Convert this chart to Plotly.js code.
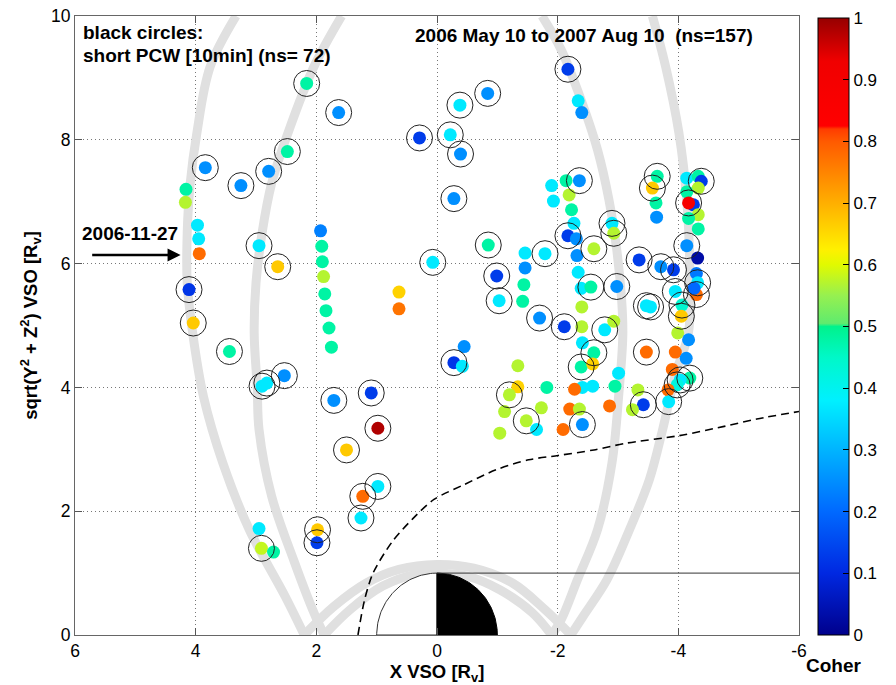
<!DOCTYPE html>
<html><head><meta charset="utf-8">
<script src="https://cdn.plot.ly/plotly-3.0.1.min.js"></script>
<style>html,body{margin:0;padding:0;background:#fff}#chart{width:896px;height:685px}</style>
</head><body><div id="chart"></div>
<script>
// ---------------- data ----------------
const xVso = [2.16,1.63,0.29,3.84,3.25,2.79,2.48,4.16,4.17,3.97,3.95,3.94,4.11,4.04,2.95,2.64,1.93,1.91,1.90,1.88,1.86,1.84,1.79,1.75,0.63,0.63,0.07,3.44,2.53,2.90,2.82,1.71,1.09,0.98,1.50,0.98,1.23,1.26,1.98,1.99,2.95,2.91,2.71,
 -0.84,-0.38,-0.22,-0.39,-0.28,-0.85,-0.99,-1.03,-2.17,-2.34,-2.40,
 -0.45,-0.28,-0.42,
 -1.90,-1.93,-2.14,-2.36,-2.19,-2.23,-2.27,-2.17,-2.31,-2.32,-2.34,-2.39,-2.55,-2.60,-2.90,-2.93,-2.98,-1.79,-1.46,-1.46,-1.44,-1.42,-1.70,-2.11,-2.40,-2.40,-2.78,-2.93,-2.41,-2.60,-2.39,-2.58,-2.58,-2.41,-2.28,-2.95,-3.01,-1.34,-1.34,-1.20,-1.82,-1.12,-1.73,-1.48,-1.65,-1.04,-2.20,-2.36,-2.09,-2.41,-2.86,
 -3.65,-3.57,-3.63,-3.64,-4.14,-4.33,-4.38,-4.33,-4.14,-4.25,-4.17,-4.33,-4.17,-4.33,-4.14,-4.32,-3.35,-3.71,-3.92,-4.30,-4.32,-4.30,-3.95,-3.47,-3.54,-4.06,-4.05,-3.99,-4.17,-3.47,-3.95,-4.13,-3.90,-4.19,-4.03,-3.98,-3.83,-3.84,-3.33,-3.42,-3.24,-4.26];
const rhoVso = [8.91,8.44,8.03,7.55,7.26,7.49,7.81,7.20,6.99,6.62,6.40,6.16,5.58,5.04,6.29,5.95,6.53,6.28,6.03,5.79,5.51,5.24,4.96,4.65,5.54,5.27,6.02,4.58,4.19,4.02,4.07,3.79,3.91,3.34,2.99,2.40,2.24,1.89,1.70,1.49,1.72,1.40,1.34,
 8.75,8.56,8.08,7.77,7.05,6.30,5.80,5.40,9.14,8.63,8.44,
 4.66,4.40,4.34,
 7.26,7.01,7.34,7.34,7.11,6.87,6.65,6.45,6.40,6.13,5.86,5.60,5.62,6.24,6.65,6.49,5.63,6.16,6.17,5.93,5.66,5.39,5.12,4.98,5.30,4.98,4.93,5.07,4.72,4.56,4.33,4.38,4.02,4.00,3.97,4.02,4.23,4.35,4.01,3.88,4.00,3.61,3.67,3.46,3.32,3.26,3.65,3.65,3.32,3.40,3.70,
 7.41,7.22,6.98,6.75,7.38,7.41,7.33,7.22,7.16,6.95,6.98,6.79,6.73,6.56,6.29,6.09,6.06,5.95,5.90,5.84,5.69,5.50,5.55,5.32,5.30,5.33,5.15,4.88,4.77,4.57,4.57,4.47,4.29,4.15,4.12,4.04,3.96,3.77,3.96,3.72,3.64,5.60];
const coher = [0.48,0.25,0.13,0.25,0.25,0.25,0.48,0.48,0.57,0.37,0.37,0.78,0.12,0.67,0.37,0.67,0.23,0.48,0.48,0.57,0.48,0.48,0.48,0.48,0.66,0.77,0.37,0.48,0.25,0.37,0.37,0.25,0.13,0.98,0.67,0.37,0.78,0.37,0.67,0.13,0.37,0.58,0.48,
 0.25,0.37,0.37,0.25,0.25,0.48,0.13,0.37,0.13,0.37,0.25,
 0.25,0.12,0.37,
 0.37,0.37,0.48,0.25,0.57,0.48,0.37,0.13,0.25,0.25,0.37,0.37,0.48,0.57,0.37,0.57,0.25,0.37,0.37,0.25,0.48,0.48,0.25,0.13,0.57,0.57,0.37,0.57,0.37,0.48,0.48,0.66,0.37,0.37,0.78,0.48,0.37,0.57,0.66,0.57,0.48,0.57,0.57,0.57,0.37,0.57,0.78,0.57,0.78,0.25,0.78,
 0.48,0.67,0.48,0.25,0.37,0.48,0.13,0.57,0.48,0.13,0.88,0.57,0.48,0.48,0.25,0.03,0.13,0.25,0.13,0.22,0.37,0.78,0.37,0.37,0.37,0.44,0.67,0.57,0.25,0.78,0.78,0.25,0.78,0.48,0.37,0.42,0.78,0.37,0.57,0.13,0.57,0.20];
const circled = [1,1,1,1,1,1,1,0,0,0,0,0,1,1,1,1,0,0,0,0,0,0,0,0,0,0,1,1,1,1,1,1,1,1,1,1,1,1,1,1,0,1,0,
 1,1,1,1,1,1,1,1,1,0,0,
 0,1,0,
 0,0,0,1,0,0,0,1,0,0,0,0,1,1,1,1,1,1,0,0,0,0,1,1,0,0,1,0,0,1,1,0,0,0,0,0,0,0,0,1,0,0,0,1,0,0,0,0,0,1,0,
 1,1,0,0,0,0,1,0,0,0,1,0,0,0,1,0,1,1,1,0,1,1,1,1,1,1,1,0,0,1,0,0,0,1,1,1,0,1,0,1,0,0];

// orbit tracks (grey bands)
const orbitOuterLeftX  = [3.33,3.76,3.98,4.09,4.14,4.14,4.05,3.87,3.55,3.11,2.52,2.20];
const orbitOuterLeftY  = [10.0,9.18,8.11,7.30,6.50,5.69,4.88,3.85,2.78,1.70,0.63,0.0];
const orbitOuterArcX   = [2.20,1.71,1.17,0.63,0.00,-0.61,-1.25,-1.79,-2.22];
const orbitOuterArcY   = [0.00,0.46,0.84,1.06,1.14,1.08,0.84,0.41,0.00];
const orbitOuterRightX = [-3.57,-3.79,-4.01,-4.14,-4.19,-4.17,-3.95,-3.74,-3.52,-3.19,-2.82,-2.42,-2.22];
const orbitOuterRightY = [10.0,9.18,8.11,7.03,5.95,4.90,4.20,3.32,2.51,1.70,0.90,0.30,0.0];
const orbitInnerLeftX  = [1.58,2.04,2.47,2.74,2.90,3.00,3.03,2.98,2.95,2.74,2.36,2.04,1.87];
const orbitInnerLeftY  = [10.0,9.18,8.11,7.30,6.49,5.69,4.88,4.00,3.32,2.24,1.17,0.36,0.0];
const orbitInnerArcX   = [1.87,1.44,0.90,0.36,0.00,-0.50,-1.04,-1.58,-1.90];
const orbitInnerArcY   = [0.00,0.41,0.79,0.98,1.00,0.95,0.73,0.36,0.00];
const orbitInnerRightX = [-1.74,-2.06,-2.39,-2.66,-2.85,-2.98,-3.06,-3.08,-3.01,-2.90,-2.66,-2.33,-2.06,-1.90];
const orbitInnerRightY = [10.0,9.45,8.64,7.84,7.03,6.22,5.42,4.85,3.85,2.78,1.70,0.90,0.25,0.0];

// bow shock (dashed)
const bowShockX = [1.31,1.20,1.06,0.74,0.40,0.05,-0.45,-0.98,-1.52,-2.01,-2.60,-3.14,-4.01,-4.76,-5.30,-6.00];
const bowShockY = [0.00,0.57,1.00,1.51,1.88,2.19,2.43,2.67,2.83,2.90,2.99,3.10,3.22,3.37,3.49,3.61];

// ticks
const xTickVals = [6,4,2,0,-2,-4,-6];
const xTickText = ['6','4','2','0','-2','-4','-6'];
const yTickVals = [0,2,4,6,8,10];
const yTickText = ['0','2','4','6','8','10'];
const cbTickVals = [0,0.1,0.2,0.3,0.4,0.5,0.6,0.7,0.8,0.9,1];
const cbTickText = ['0','0.1','0.2','0.3','0.4','0.5','0.6','0.7','0.8','0.9','1'];

const X_RANGE = [6,-6];
const Y_RANGE = [0,10];
const PLANET_R = 1;

// ---------------- drawing ----------------
const cmap = [[0,'rgb(0,0,140)'],[0.1,'rgb(0,40,225)'],[0.2,'rgb(0,105,255)'],[0.3,'rgb(0,180,255)'],
  [0.38,'rgb(0,240,255)'],[0.45,'rgb(0,248,200)'],[0.5,'rgb(0,242,140)'],[0.505,'rgb(95,235,110)'],
  [0.55,'rgb(150,240,80)'],[0.6,'rgb(225,250,0)'],[0.625,'rgb(255,240,0)'],[0.7,'rgb(255,175,0)'],
  [0.8,'rgb(255,90,0)'],[0.82,'rgb(255,60,0)'],[0.825,'rgb(255,0,0)'],[0.93,'rgb(240,0,0)'],[1,'rgb(150,0,0)']];
const FONT = 'Liberation Sans, Arial, Helvetica, sans-serif';

const traces = [];
const bands = [[orbitOuterLeftX,orbitOuterLeftY],[orbitOuterArcX,orbitOuterArcY],[orbitOuterRightX,orbitOuterRightY],
               [orbitInnerLeftX,orbitInnerLeftY],[orbitInnerArcX,orbitInnerArcY],[orbitInnerRightX,orbitInnerRightY]];
bands.forEach(b => traces.push({type:'scatter',mode:'lines',x:b[0],y:b[1],
  line:{color:'#e0e0e0',width:9,shape:'spline',smoothing:1},hoverinfo:'skip',showlegend:false}));

// planet: dayside (x>0) white, nightside black
const N = 60;
const dayX=[0], dayY=[0], nightX=[0], nightY=[0];
for(let i=0;i<=N;i++){
  const t = (Math.PI/2)*i/N;
  dayX.push(PLANET_R*Math.cos(t)); dayY.push(PLANET_R*Math.sin(t));
  nightX.push(-PLANET_R*Math.sin(t)); nightY.push(PLANET_R*Math.cos(t));
}
dayX.push(0); dayY.push(0); nightX.push(0); nightY.push(0);
traces.push({type:'scatter',mode:'lines',x:dayX,y:dayY,fill:'toself',fillcolor:'#ffffff',
  line:{color:'#333',width:1},hoverinfo:'skip',showlegend:false});
traces.push({type:'scatter',mode:'lines',x:nightX,y:nightY,fill:'toself',fillcolor:'#000000',
  line:{color:'#000',width:1},hoverinfo:'skip',showlegend:false});
// wake boundary line
traces.push({type:'scatter',mode:'lines',x:[0,X_RANGE[1]],y:[PLANET_R,PLANET_R],
  line:{color:'#333',width:1},hoverinfo:'skip',showlegend:false});
// bow shock
traces.push({type:'scatter',mode:'lines',x:bowShockX,y:bowShockY,
  line:{color:'#000',width:1.6,dash:'8px,5px',shape:'spline',smoothing:0.8},hoverinfo:'skip',showlegend:false});

// observations
traces.push({type:'scatter',mode:'markers',x:xVso,y:rhoVso,
  marker:{size:13,color:coher,colorscale:cmap,cmin:0,cmax:1,line:{width:0},
    showscale:true,
    colorbar:{x:(836-75)/742,xanchor:'left',xpad:0,ypad:0,y:0,yanchor:'bottom',len:0.997,lenmode:'fraction',
      thickness:31,outlinecolor:'#000',outlinewidth:1,ticks:'inside',ticklen:6,tickcolor:'#000',
      tickvals:cbTickVals,ticktext:cbTickText,tickfont:{family:FONT,size:17,color:'#000'}}},
  hoverinfo:'skip',showlegend:false});
const cx = xVso.filter((v,i)=>circled[i]);
const cy = rhoVso.filter((v,i)=>circled[i]);
traces.push({type:'scatter',mode:'markers',x:cx,y:cy,
  marker:{symbol:'circle-open',size:26,color:'#222',line:{width:1,color:'#222'}},hoverinfo:'skip',showlegend:false});

const px = p => (p-75)/742;
const py = p => (635-p)/619;
const bold = {family:FONT,size:19,color:'#000',weight:'bold'};
const boldAx = {family:FONT,size:18.5,color:'#000',weight:'bold'};

const layout = {
  width:896,height:685,
  margin:{l:75,r:79,t:16,b:50},
  paper_bgcolor:'#fff',plot_bgcolor:'#fff',
  font:{family:FONT,size:17,color:'#000'},
  showlegend:false,hovermode:false,
  xaxis:{range:X_RANGE,autorange:false,tickvals:xTickVals,ticktext:xTickText,
    ticks:'inside',ticklen:7,tickcolor:'#555',showline:true,linecolor:'#666',linewidth:1,mirror:'ticks',
    showgrid:true,gridcolor:'#777',griddash:'1px,3px',gridwidth:1,zeroline:false,
    tickfont:{family:FONT,size:17.5,color:'#000'},
    title:{text:'X VSO [R<sub>v</sub>]',font:boldAx,standoff:0}},
  yaxis:{range:Y_RANGE,autorange:false,tickvals:yTickVals,ticktext:yTickText,
    ticks:'inside',ticklen:7,tickcolor:'#555',showline:true,linecolor:'#666',linewidth:1,mirror:'ticks',
    showgrid:true,gridcolor:'#777',griddash:'1px,3px',gridwidth:1,zeroline:false,
    tickfont:{family:FONT,size:17.5,color:'#000'},
    title:{text:'sqrt(Y<sup>2</sup> + Z<sup>2</sup>) VSO [R<sub>v</sub>]',font:boldAx,standoff:8}},
  annotations:[
    {xref:'paper',yref:'paper',x:px(81),y:py(33),xanchor:'left',yanchor:'middle',showarrow:false,text:'black circles:',font:bold},
    {xref:'paper',yref:'paper',x:px(81),y:py(55),xanchor:'left',yanchor:'middle',showarrow:false,text:'short PCW [10min] (ns= 72)',font:bold},
    {xref:'paper',yref:'paper',x:px(421),y:py(35),xanchor:'left',yanchor:'middle',showarrow:false,text:'2006 May 10 to 2007 Aug 10 \u00a0(ns=157)',font:bold},
    {xref:'paper',yref:'paper',x:px(80),y:py(233),xanchor:'left',yanchor:'middle',showarrow:false,text:'2006-11-27',font:bold},
    {xref:'x',yref:'y',axref:'x',ayref:'y',x:4.25,y:6.14,ax:5.74,ay:6.14,text:'',showarrow:true,arrowhead:2,arrowsize:1,arrowwidth:2.6,arrowcolor:'#000'},
    {xref:'paper',yref:'paper',x:px(853),y:py(665),xanchor:'center',yanchor:'middle',showarrow:false,text:'Coher',font:bold}
  ]
};
Plotly.newPlot('chart',traces,layout,{displayModeBar:false,staticPlot:true});
</script></body></html>
